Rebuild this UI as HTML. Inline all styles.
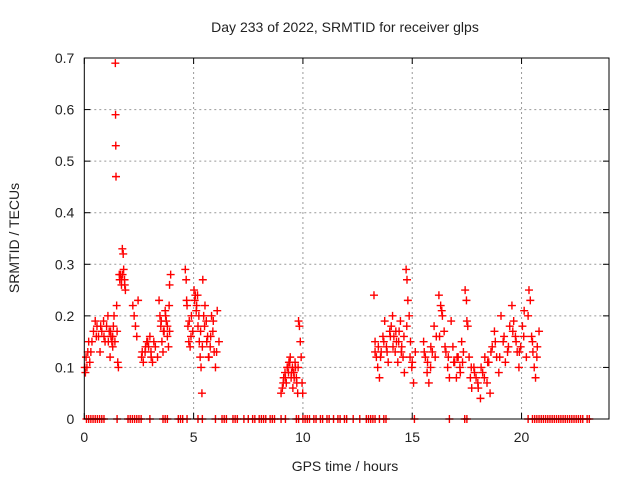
<!DOCTYPE html>
<html><head><meta charset="utf-8"><style>
body{margin:0;background:#fff}
svg text{font-family:"Liberation Sans",sans-serif;font-size:14px;fill:#222}
</style></head><body>
<svg id="chart" width="640" height="480" xmlns="http://www.w3.org/2000/svg">
<rect width="640" height="480" fill="#fff"/>
<g id="grid"></g>
<g id="ticks"></g>
<g id="marks"></g>
<rect x="84.3" y="58" width="524.7" height="361" fill="none" stroke="#000" stroke-width="1"/>
<text x="345" y="32" text-anchor="middle">Day 233 of 2022, SRMTID for receiver glps</text>
<text x="345" y="471" text-anchor="middle">GPS time / hours</text>
<text transform="translate(19,238) rotate(-90)" text-anchor="middle">SRMTID / TECUs</text>
</svg>
<script>
const xTicks=[0,5,10,15,20];
const yTicks=[0,0.1,0.2,0.3,0.4,0.5,0.6,0.7];
const yTickLabels=["0","0.1","0.2","0.3","0.4","0.5","0.6","0.7"];
const times=[
0.02,0.05,0.08,0.12,0.16,0.2,0.25,
0.35,0.42,0.5,0.58,0.65,0.72,0.8,0.88,0.95,1.02,1.08,1.14,1.18,
1.22,1.26,1.3,1.33,1.36,1.42,1.43,1.44,1.45,1.48,1.5,1.53,1.56,
1.62,1.66,1.7,1.74,1.78,1.8,1.84,1.88,
2.22,2.28,2.34,2.4,2.46,
2.62,2.7,2.78,2.86,2.94,3.0,3.06,3.12,3.18,
3.42,3.46,3.5,3.55,3.6,3.65,3.7,3.75,3.8,3.85,3.9,3.95,3.88,
4.62,4.66,4.7,4.74,4.78,4.84,4.9,4.96,
5.02,5.08,5.14,5.2,5.26,5.3,5.34,5.38,5.42,5.46,
5.52,5.58,5.64,5.7,5.76,5.82,5.88,5.94,6.0,6.08,6.16,
9.0,9.06,9.12,9.18,9.24,9.3,9.36,9.42,9.48,9.54,9.6,9.66,9.72,9.76,
9.8,9.84,9.88,9.92,9.96,9.99,
13.25,13.3,13.36,13.42,13.5,13.58,13.66,13.74,13.82,13.9,13.97,
14.04,14.1,14.16,14.22,14.28,14.34,14.4,14.46,14.52,14.58,14.64,
14.72,14.76,14.8,14.86,14.92,14.98,15.06,15.14,
15.52,15.6,15.68,15.76,15.84,15.92,16.0,16.1,
16.22,16.3,16.38,16.46,16.54,16.62,16.7,16.78,
16.86,16.94,17.02,17.1,17.18,17.26,17.34,
17.42,17.48,17.54,17.6,17.66,17.72,
17.82,17.92,18.02,18.12,18.22,18.32,18.42,18.5,18.56,
18.66,18.76,18.86,18.96,19.06,19.16,19.26,19.36,19.46,
19.56,19.64,19.72,19.8,19.88,19.96,20.04,20.12,20.22,
20.34,20.4,20.46,20.52,20.58,20.64,20.72,20.8
];
const values=[
0.10,0.09,0.12,0.10,0.13,0.15,0.11,
0.15,0.17,0.19,0.18,0.16,0.13,0.17,0.19,0.15,0.18,0.20,0.17,0.12,
0.16,0.15,0.14,0.18,0.20,0.69,0.59,0.53,0.47,0.22,0.17,0.11,0.10,
0.27,0.28,0.26,0.33,0.32,0.29,0.27,0.25,
0.22,0.20,0.18,0.16,0.23,
0.12,0.11,0.13,0.15,0.14,0.16,0.12,0.11,0.15,
0.23,0.20,0.18,0.15,0.13,0.17,0.21,0.19,0.16,0.14,0.26,0.28,0.22,
0.29,0.27,0.22,0.18,0.15,0.14,0.20,0.17,
0.25,0.24,0.22,0.18,0.15,0.12,0.10,0.05,0.27,0.20,
0.22,0.19,0.16,0.12,0.14,0.20,0.17,0.13,0.10,0.21,0.15,
0.05,0.06,0.08,0.09,0.07,0.10,0.11,0.12,0.09,0.06,0.08,0.10,0.07,0.05,
0.19,0.18,0.15,0.12,0.07,0.05,
0.24,0.15,0.12,0.10,0.08,0.13,0.16,0.19,0.14,0.11,0.17,
0.18,0.20,0.16,0.13,0.15,0.11,0.17,0.19,0.14,0.12,0.09,
0.29,0.27,0.23,0.20,0.15,0.10,0.07,0.13,
0.15,0.12,0.09,0.07,0.10,0.13,0.18,0.16,
0.24,0.22,0.20,0.17,0.13,0.10,0.08,0.19,
0.14,0.11,0.08,0.12,0.10,0.15,0.13,
0.25,0.23,0.18,0.12,0.08,0.06,
0.10,0.08,0.06,0.04,0.09,0.12,0.07,0.11,0.05,
0.14,0.17,0.12,0.09,0.20,0.15,0.11,0.13,0.18,
0.22,0.19,0.16,0.13,0.10,0.14,0.18,0.21,0.12,
0.25,0.23,0.16,0.13,0.10,0.08,0.14,0.17
];
const extraTimes=[
0.3,0.55,0.75,0.9,1.1,1.2,1.3,1.4,1.6,1.7,1.75,1.85,
2.65,2.8,2.9,3.05,3.25,3.35,3.52,3.62,3.72,3.8,3.9,
4.68,4.8,4.88,5.05,5.12,5.18,5.24,5.32,5.4,5.5,5.6,5.68,5.78,5.9,6.05,
9.1,9.2,9.28,9.34,9.4,9.46,9.52,9.58,9.64,9.7,9.78,
13.3,13.45,13.55,13.7,13.85,14.0,14.12,14.25,14.38,14.5,14.62,14.75,14.9,15.0,
15.55,15.7,15.85,16.05,16.25,16.35,16.5,16.65,16.9,17.05,17.2,17.3,17.5,17.7,
17.85,18.0,18.15,18.3,18.45,18.6,18.8,19.0,19.2,19.4,19.6,19.75,19.9,20.1,20.3,20.5,20.7
];
const extraValues=[
0.13,0.16,0.18,0.16,0.15,0.17,0.16,0.15,0.28,0.27,0.28,0.26,
0.13,0.14,0.15,0.13,0.14,0.12,0.19,0.17,0.20,0.18,0.17,
0.23,0.19,0.16,0.23,0.21,0.24,0.20,0.17,0.14,0.18,0.15,0.12,0.16,0.19,0.13,
0.07,0.08,0.10,0.09,0.11,0.08,0.10,0.09,0.11,0.08,0.10,
0.13,0.14,0.12,0.15,0.13,0.16,0.14,0.17,0.15,0.13,0.16,0.18,0.12,0.11,
0.13,0.11,0.14,0.12,0.16,0.21,0.14,0.12,0.11,0.12,0.09,0.11,0.19,0.10,
0.09,0.07,0.10,0.08,0.11,0.13,0.15,0.12,0.16,0.14,0.17,0.15,0.13,0.16,0.20,0.15,0.12
];
const zeroTimes=[0.1,0.2,0.3,0.4,0.5,0.6,0.7,0.8,0.9,1.5,2.0,2.1,2.2,2.3,2.4,2.5,2.6,3.0,3.6,3.7,3.8,4.3,4.4,4.5,4.7,5.2,5.4,6.0,6.3,6.4,6.5,6.8,6.9,7.0,7.3,7.5,7.7,7.8,8.0,8.1,8.2,8.3,8.5,8.6,8.7,9.0,9.2,9.7,9.8,10.0,10.1,10.2,10.3,10.5,10.6,10.8,10.9,11.1,11.2,11.4,11.6,11.7,11.9,12.0,12.3,12.6,12.9,13.0,13.1,13.2,13.3,13.5,13.7,13.8,15.1,16.7,17.4,17.5,20.3,20.5,20.6,20.7,20.8,20.9,21.0,21.1,21.2,21.3,21.4,21.5,21.6,21.7,21.8,21.9,22.0,22.1,22.2,22.3,22.4,22.5,22.6,22.7,22.8,23.0,23.1];

const X0=84.3,X1=609,Y0=419,Y1=58;
function xs(t){return X0+t/24*(X1-X0);}
function ys(v){return Y0-v/0.7*(Y0-Y1);}
const NS="http://www.w3.org/2000/svg";
const grid=document.getElementById('grid'),ticks=document.getElementById('ticks'),marks=document.getElementById('marks');
function mk(tag,attrs,parent){const e=document.createElementNS(NS,tag);for(const k in attrs)e.setAttribute(k,attrs[k]);parent.appendChild(e);return e;}
xTicks.forEach(t=>{
  const x=xs(t);
  if(t>0){const g=mk('line',{x1:x,x2:x,y1:Y0,y2:Y1,stroke:'#999','stroke-dasharray':'2,3'},grid);
  
  }
  mk('line',{x1:x,x2:x,y1:Y0,y2:Y0-6,stroke:'#000'},ticks);
  mk('line',{x1:x,x2:x,y1:Y1,y2:Y1+6,stroke:'#000'},ticks);
  const l=mk('text',{x:x,y:Y0+23,'text-anchor':'middle'},ticks);l.textContent=t;
  
  
});
yTicks.forEach((v,i)=>{
  const y=ys(v);
  if(v>0&&v<0.7){const g=mk('line',{x1:X0,x2:X1,y1:y,y2:y,stroke:'#999','stroke-dasharray':'2,3'},grid);
  
  }
  mk('line',{x1:X0,x2:X0+6,y1:y,y2:y,stroke:'#000'},ticks);
  mk('line',{x1:X1,x2:X1-6,y1:y,y2:y,stroke:'#000'},ticks);
  const l=mk('text',{x:X0-10,y:y+5,'text-anchor':'end'},ticks);l.textContent=yTickLabels[i];
  
  
});
function plus(t,v){
  const x=xs(t),y=ys(v);
  const p=mk('path',{d:`M${x-4},${y}H${x+4}M${x},${y-4}V${y+4}`,stroke:'#f00','stroke-width':1.4,fill:'none'},marks);
  
  
}
times.forEach((t,i)=>plus(t,values[i]));
extraTimes.forEach((t,i)=>plus(t,extraValues[i]));
zeroTimes.forEach(t=>plus(t,0));
</script>
</body></html>
